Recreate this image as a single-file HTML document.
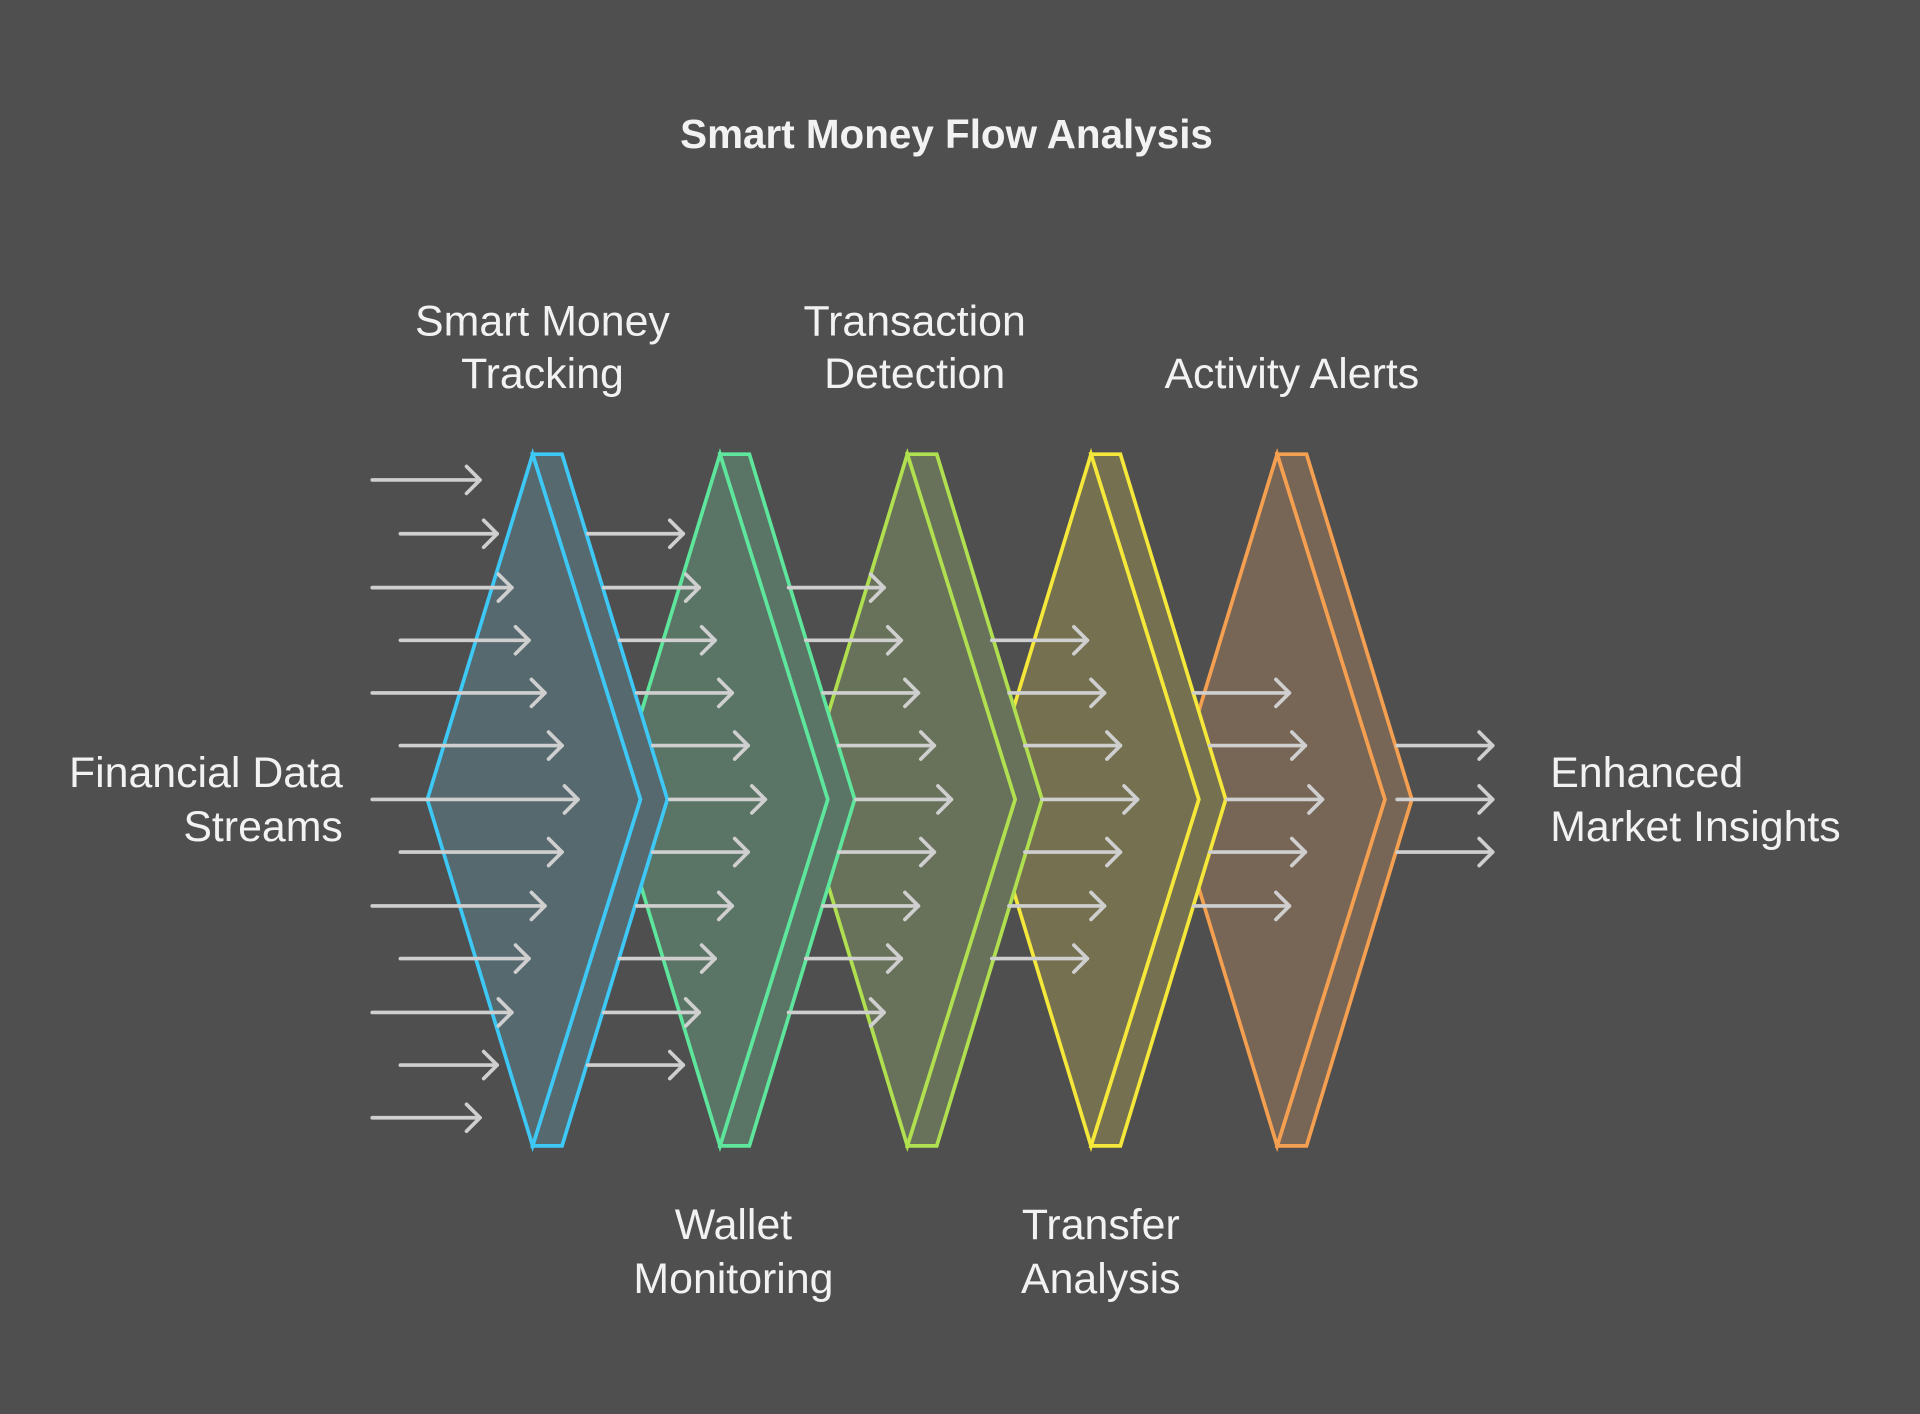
<!DOCTYPE html>
<html><head><meta charset="utf-8"><style>
html,body{margin:0;padding:0;background:#4f4f4f;}
svg{display:block;}
text{font-family:"Liberation Sans",sans-serif;fill:#f2f2f2;}
</style></head><body>
<svg width="1920" height="1414" viewBox="0 0 1568 1155" preserveAspectRatio="none" xmlns="http://www.w3.org/2000/svg">
<defs>
<marker id="ah" markerUnits="userSpaceOnUse" markerWidth="30" markerHeight="30" refX="15" refY="15" orient="auto">
<path d="M4 4 L15 15 L4 26" fill="none" stroke="#cfcfcf" stroke-width="3" stroke-linecap="round" stroke-linejoin="round"/>
</marker>
</defs>
<rect width="1568" height="1155" fill="#4f4f4f"/>
<text x="773" y="121" font-size="33" font-weight="bold" text-anchor="middle">Smart Money Flow Analysis</text>
<g font-size="35" text-anchor="middle">
<text x="443" y="274">Smart Money</text><text x="443" y="317">Tracking</text>
<text x="747" y="274">Transaction</text><text x="747" y="317">Detection</text>
<text x="1055" y="317">Activity Alerts</text>
<text x="599" y="1012">Wallet</text><text x="599" y="1056">Monitoring</text>
<text x="899" y="1012">Transfer</text><text x="899" y="1056">Analysis</text>
<text x="280" y="643" text-anchor="end">Financial Data</text><text x="280" y="687" text-anchor="end">Streams</text>
<text x="1266" y="643" text-anchor="start">Enhanced</text><text x="1266" y="687" text-anchor="start">Market Insights</text>
</g>
<g stroke-width="3" stroke-linejoin="miter">
<g stroke="#f5a050" fill="#776656">
<polygon points="1043,371 1067,371 1153,653 1067,936 1043,936 1131,653"/>
<polygon points="957,653 1043,371 1131,653 1043,936"/>
</g>
<g stroke="#f5e83a" fill="#747050">
<polygon points="891,371 915,371 1001,653 915,936 891,936 979,653"/>
<polygon points="805,653 891,371 979,653 891,936"/>
</g>
<g stroke="#b0e050" fill="#68725a">
<polygon points="741,371 765,371 851,653 765,936 741,936 829,653"/>
<polygon points="655,653 741,371 829,653 741,936"/>
</g>
<g stroke="#5ee69c" fill="#5a7465">
<polygon points="588,371 612,371 698,653 612,936 588,936 676,653"/>
<polygon points="502,653 588,371 676,653 588,936"/>
</g>
<g stroke="#3ec8f5" fill="#55696f">
<polygon points="435,371 459,371 545,653 459,936 435,936 523,653"/>
<polygon points="349,653 435,371 523,653 435,936"/>
</g>
</g>
<g stroke="#cfcfcf" stroke-width="3" fill="none" stroke-linecap="round" marker-end="url(#ah)">
<path d="M304 392H392"/><path d="M327 436H406"/><path d="M304 480H418"/><path d="M327 523H432"/>
<path d="M304 566H445"/><path d="M327 609H459"/><path d="M304 653H472"/><path d="M327 696H459"/>
<path d="M304 740H445"/><path d="M327 783H432"/><path d="M304 827H418"/><path d="M327 870H406"/>
<path d="M304 913H392"/>
<path d="M480 436H558"/><path d="M493 480H571"/><path d="M506 523H584"/><path d="M520 566H598"/>
<path d="M533 609H611"/><path d="M547 653H625"/><path d="M533 696H611"/><path d="M520 740H598"/>
<path d="M506 783H584"/><path d="M493 827H571"/><path d="M480 870H558"/>
<path d="M644 480H722"/><path d="M658 523H736"/><path d="M672 566H750"/><path d="M685 609H763"/>
<path d="M699 653H777"/><path d="M685 696H763"/><path d="M672 740H750"/><path d="M658 783H736"/>
<path d="M644 827H722"/>
<path d="M810 523H888"/><path d="M824 566H902"/><path d="M837 609H915"/><path d="M851 653H929"/>
<path d="M837 696H915"/><path d="M824 740H902"/><path d="M810 783H888"/>
<path d="M975 566H1053"/><path d="M988 609H1066"/><path d="M1002 653H1080"/><path d="M988 696H1066"/>
<path d="M975 740H1053"/>
<path d="M1141 609H1219"/><path d="M1141 653H1219"/><path d="M1141 696H1219"/>
</g>
</svg>
</body></html>
